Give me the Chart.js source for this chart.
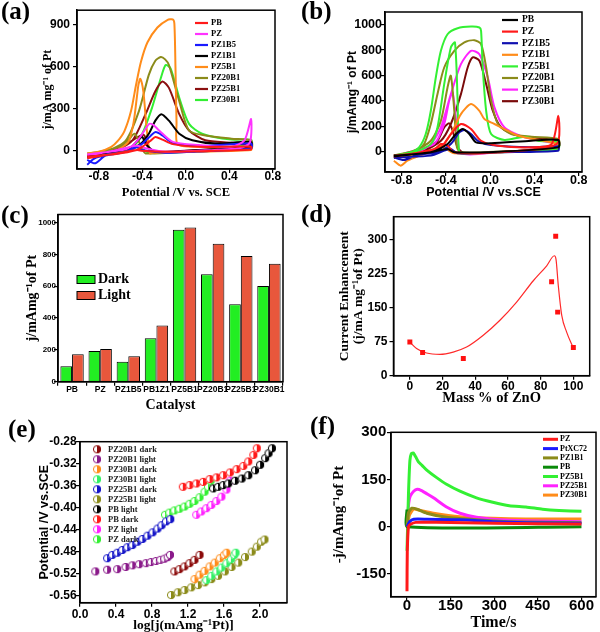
<!DOCTYPE html>
<html lang="en">
<head>
<meta charset="UTF-8">
<title>Pt catalyst panels</title>
<script src="https://cdn.jsdelivr.net/npm/chart.js"></script>
<style>
  body { margin: 0; background: #fff; }
  #fig { position: relative; width: 600px; height: 632px; overflow: hidden; }
  #fig canvas { position: absolute; }
  .tag { position: absolute; font: bold 25px 'Liberation Serif', 'Times New Roman', serif; line-height: 24px; }
</style>
</head>
<body>
<div id="fig">
  <canvas id="cA" width="300" height="205" style="left:0;top:0"></canvas>
  <canvas id="cB" width="300" height="205" style="left:300px;top:0"></canvas>
  <canvas id="cC" width="300" height="210" style="left:0;top:205px"></canvas>
  <canvas id="cD" width="300" height="210" style="left:300px;top:205px"></canvas>
  <canvas id="cE" width="300" height="217" style="left:0;top:415px"></canvas>
  <canvas id="cF" width="300" height="217" style="left:300px;top:415px"></canvas>
  <div class="tag" style="left:1px;top:-1px">(a)</div>
  <div class="tag" style="left:301px;top:-1px">(b)</div>
  <div class="tag" style="left:1px;top:203px">(c)</div>
  <div class="tag" style="left:301px;top:202px">(d)</div>
  <div class="tag" style="left:8px;top:417px">(e)</div>
  <div class="tag" style="left:310px;top:414px">(f)</div>
</div>
<script>
// ---- (a) CV in dark: [potential V, j], forward then reverse scan
const cvLabels = ['PB', 'PZ', 'PZ1B5', 'PZ1B1', 'PZ5B1', 'PZ20B1', 'PZ25B1', 'PZ30B1'];
const aPB = [[-0.906,-42],[-0.64,-23],[-0.45,5],[-0.40,28],[-0.32,74],[-0.28,98],[-0.215,79],[-0.12,47],[0.12,28],[0.6,28],[0.6,9],[0.1,-3],[-0.19,-7],[-0.40,0],[-0.45,5],[-0.64,-19],[-0.906,-53]];
const aPZ = [[-0.906,-25],[-0.58,5],[-0.50,30],[-0.43,86],[-0.336,191],[-0.30,185],[-0.245,144],[-0.12,63],[0.12,40],[0.42,28],[0.54,74],[0.6,226],[0.59,60],[0.5,20],[0.1,0],[-0.19,-7],[-0.38,20],[-0.45,35],[-0.55,20],[-0.79,-19],[-0.906,-30]];
const aPZ1B5 = [[-0.906,-65],[-0.85,-88],[-0.82,-84],[-0.73,-30],[-0.55,-7],[-0.40,51],[-0.32,109],[-0.276,133],[-0.215,109],[-0.12,56],[0.12,33],[0.6,51],[0.6,16],[0.1,-5],[-0.19,-14],[-0.40,5],[-0.46,28],[-0.55,-7],[-0.79,-42],[-0.85,-60],[-0.906,-100]];
const aPZ1B1 = [[-0.906,-40],[-0.61,5],[-0.43,40],[-0.34,121],[-0.28,214],[-0.225,260],[-0.155,214],[-0.06,121],[0.06,74],[0.27,51],[0.6,63],[0.6,28],[0.12,5],[-0.28,-7],[-0.37,51],[-0.40,98],[-0.44,74],[-0.52,16],[-0.79,-23],[-0.906,-50]];
const aPZ5B1 = [[-0.906,-19],[-0.79,-5],[-0.685,28],[-0.625,70],[-0.564,140],[-0.503,284],[-0.457,470],[-0.412,633],[-0.352,772],[-0.261,877],[-0.17,930],[-0.12,935],[-0.105,905],[-0.095,600],[-0.085,200],[-0.075,45],[0.12,28],[0.42,16],[0.6,20],[0.6,5],[0.12,-7],[-0.30,-14],[-0.33,-18],[-0.36,160],[-0.39,420],[-0.418,512],[-0.435,470],[-0.45,380],[-0.48,200],[-0.53,60],[-0.65,0],[-0.906,-30]];
const aPZ20B1 = [[-0.906,-19],[-0.70,5],[-0.55,74],[-0.43,284],[-0.34,540],[-0.28,640],[-0.23,667],[-0.19,650],[-0.155,610],[-0.06,353],[0.03,144],[0.18,109],[0.42,86],[0.6,74],[0.6,16],[-0.03,-7],[-0.37,-19],[-0.41,28],[-0.47,121],[-0.53,74],[-0.61,28],[-0.79,-7],[-0.906,-23]];
const aPZ25B1 = [[-0.906,-30],[-0.64,5],[-0.49,74],[-0.37,260],[-0.28,423],[-0.215,493],[-0.155,447],[-0.06,260],[0.03,144],[0.18,74],[0.42,56],[0.6,40],[0.6,28],[0.12,5],[-0.28,-7],[-0.35,28],[-0.38,109],[-0.41,109],[-0.49,74],[-0.61,16],[-0.906,-30]];
const aPZ30B1 = [[-0.906,-25],[-0.64,-3],[-0.49,28],[-0.40,121],[-0.31,307],[-0.23,516],[-0.185,610],[-0.14,586],[-0.06,377],[0.03,191],[0.15,121],[0.42,79],[0.6,79],[0.6,51],[0.12,0],[-0.34,-14],[-0.43,28],[-0.50,10],[-0.64,-7],[-0.906,-30]];
const aColors = ['#ff1a1a', '#ff33ff', '#1a1aff', '#000000', '#ff8c1a', '#8b8b1a', '#8b1010', '#33ee33'];

// ---- (b) CV under light
const bPB = [[-0.87,-31],[-0.536,-5],[-0.385,60],[-0.309,139],[-0.248,178],[-0.188,139],[-0.127,73],[0.009,66],[0.373,86],[0.615,92],[0.615,34],[0.07,0],[-0.324,-5],[-0.385,21],[-0.536,-5],[-0.87,-37]];
const bPZ = [[-0.87,-31],[-0.597,-5],[-0.445,34],[-0.355,139],[-0.264,218],[-0.173,178],[-0.082,86],[0.07,47],[0.373,34],[0.555,60],[0.615,283],[0.6,60],[0.07,-5],[-0.324,-5],[-0.385,47],[-0.445,60],[-0.5,21],[-0.688,-13],[-0.87,-39]];
const bPZ1B5 = [[-0.87,-45],[-0.779,-66],[-0.658,-24],[-0.476,-5],[-0.355,60],[-0.279,152],[-0.233,170],[-0.173,139],[-0.112,86],[0.009,52],[0.373,34],[0.615,42],[0.615,8],[0.07,-5],[-0.294,-13],[-0.355,21],[-0.415,8],[-0.536,-31],[-0.84,-45],[-0.87,-50]];
const bPZ1B1 = [[-0.87,-71],[-0.809,-110],[-0.748,-71],[-0.597,-18],[-0.445,34],[-0.355,139],[-0.264,296],[-0.173,375],[-0.097,322],[-0.052,257],[0.039,218],[0.13,178],[0.252,126],[0.615,60],[0.615,34],[0.07,-5],[-0.324,-13],[-0.415,34],[-0.445,47],[-0.536,8],[-0.748,-31],[-0.87,-45]];
const bPZ5B1 = [[-0.87,-31],[-0.718,-5],[-0.642,34],[-0.582,139],[-0.536,322],[-0.491,584],[-0.445,794],[-0.385,925],[-0.294,972],[-0.173,985],[-0.097,978],[-0.082,951],[-0.067,663],[-0.036,322],[0.009,139],[0.13,92],[0.312,118],[0.433,86],[0.615,73],[0.615,21],[0.07,-5],[-0.233,-13],[-0.28,-5],[-0.294,401],[-0.318,860],[-0.355,820],[-0.415,532],[-0.476,191],[-0.536,60],[-0.688,-5],[-0.87,-45]];
const bPZ20B1 = [[-0.87,-31],[-0.688,-5],[-0.597,60],[-0.536,218],[-0.476,453],[-0.415,663],[-0.324,794],[-0.233,860],[-0.142,878],[-0.082,847],[-0.036,663],[0.009,401],[0.07,218],[0.19,139],[0.373,118],[0.615,100],[0.615,34],[0.07,0],[-0.264,-5],[-0.3,34],[-0.324,322],[-0.355,598],[-0.385,506],[-0.445,244],[-0.536,86],[-0.688,8],[-0.87,-31]];
const bPZ25B1 = [[-0.87,-31],[-0.658,-5],[-0.536,60],[-0.445,191],[-0.355,453],[-0.264,689],[-0.173,794],[-0.097,768],[-0.021,584],[0.039,349],[0.13,191],[0.312,113],[0.615,60],[0.615,34],[0.07,-5],[-0.264,-13],[-0.294,139],[-0.339,466],[-0.37,401],[-0.415,218],[-0.506,60],[-0.688,8],[-0.87,-39]];
const bPZ30B1 = [[-0.87,-45],[-0.597,8],[-0.445,86],[-0.355,218],[-0.264,453],[-0.203,663],[-0.158,742],[-0.097,716],[-0.036,532],[0.024,322],[0.1,191],[0.252,126],[0.615,86],[0.615,34],[0.07,-5],[-0.233,-13],[-0.294,34],[-0.339,165],[-0.37,223],[-0.415,191],[-0.476,86],[-0.597,21],[-0.87,-45]];
const bColors = ['#000000', '#ff1a1a', '#1010b0', '#ff8c1a', '#33f033', '#8b8b1a', '#ff22ff', '#7a0a0a'];

// ---- (c) peak current, dark vs light
const catalysts = ['PB', 'PZ', 'PZ1B5', 'PB1Z1', 'PZ5B1', 'PZ20B1', 'PZ25B1', 'PZ30B1'];
const darkPeak = [97, 193, 126, 273, 954, 674, 487, 601];
const lightPeak = [172, 206, 160, 353, 968, 866, 790, 740];

// ---- (d) current enhancement vs ZnO mass %
const znoMass = [0, 7.8, 32.7, 86.7, 89.2, 90.4, 100];
const enhancement = [74, 51, 38, 207, 307, 140, 62];
const fitMass = [0, 4.1, 10.2, 18.4, 26.5, 34.7, 44.9, 55.1, 65.3, 75.5, 83.7, 88.4, 89.4, 90.8, 92.9, 95.9, 100];
const fitEnh = [74, 60, 50, 47, 52, 63, 89, 122, 162, 209, 242, 264, 256, 198, 133, 96, 61];

// ---- (e) Tafel plots: [log j, potential]
const ePZ20B1dark = [[1.048,-0.516],[1.104,-0.512],[1.16,-0.507],[1.216,-0.501],[1.272,-0.495],[1.328,-0.486]];
const ePZ20B1light = [[0.17,-0.516],[0.301,-0.513],[0.413,-0.512],[0.506,-0.508],[0.581,-0.505],[0.656,-0.503],[0.731,-0.501],[0.787,-0.499],[0.843,-0.497],[0.891,-0.495],[0.936,-0.493],[0.974,-0.49],[1.0,-0.486]];
const ePZ30B1dark = [[1.272,-0.53],[1.328,-0.522],[1.384,-0.515],[1.44,-0.507],[1.497,-0.5],[1.553,-0.492],[1.601,-0.486],[1.627,-0.482]];
const ePZ30B1light = [[1.403,-0.532],[1.459,-0.524],[1.515,-0.516],[1.571,-0.509],[1.627,-0.501],[1.676,-0.494],[1.713,-0.486],[1.728,-0.482]];
const ePZ25B1dark = [[0.301,-0.492],[0.357,-0.486],[0.413,-0.482],[0.469,-0.477],[0.525,-0.472],[0.581,-0.468],[0.637,-0.462],[0.693,-0.457],[0.749,-0.451],[0.806,-0.445],[0.861,-0.438],[0.906,-0.432],[0.955,-0.425],[1.003,-0.421]];
const ePZ25B1light = [[1.011,-0.559],[1.086,-0.554],[1.16,-0.55],[1.235,-0.545],[1.31,-0.541],[1.384,-0.536],[1.459,-0.53],[1.534,-0.524],[1.609,-0.516],[1.684,-0.508],[1.758,-0.5],[1.833,-0.49],[1.908,-0.48],[1.964,-0.471],[2.012,-0.462],[2.05,-0.458]];
const ePBlight = [[1.478,-0.365],[1.534,-0.362],[1.59,-0.359],[1.646,-0.356],[1.721,-0.351],[1.796,-0.347],[1.87,-0.341],[1.945,-0.332],[2.001,-0.322],[2.057,-0.31],[2.095,-0.301],[2.132,-0.292]];
const ePBdark = [[1.142,-0.362],[1.216,-0.359],[1.291,-0.356],[1.366,-0.353],[1.44,-0.348],[1.515,-0.345],[1.59,-0.341],[1.665,-0.336],[1.739,-0.33],[1.814,-0.324],[1.87,-0.316],[1.926,-0.304],[1.964,-0.292]];
const ePZlight = [[1.291,-0.413],[1.347,-0.407],[1.403,-0.401],[1.459,-0.395],[1.515,-0.388],[1.571,-0.38],[1.627,-0.367],[1.665,-0.351]];
const ePZdark = [[0.944,-0.413],[0.992,-0.409],[1.048,-0.405],[1.104,-0.402],[1.16,-0.398],[1.216,-0.393],[1.272,-0.388],[1.328,-0.381],[1.384,-0.371],[1.422,-0.362],[1.452,-0.351]];
const tafelLabels = ['PZ20B1 dark', 'PZ20B1 light', 'PZ30B1 dark', 'PZ30B1 light', 'PZ25B1 dark', 'PZ25B1 light', 'PB light', 'PB dark', 'PZ light', 'PZ dark'];
const tafelColors = ['#8b0a0a', '#8a1a8a', '#ff8c1a', '#33f066', '#1414c8', '#8b8b1a', '#000000', '#ff1a1a', '#ff22ff', '#33f033'];

// ---- (f) chronoamperometry: [time s, -j]
const fPZ = [[0,-205],[1,-80],[5,0],[12,8],[30,14],[100,14],[300,11],[600,9]];
const fPtXC72 = [[0,0],[9,16],[23,24],[68,24],[182,22],[295,16],[409,13],[600,11]];
const fPZ1B1 = [[0,0],[5,45],[17,59],[34,56],[68,43],[136,30],[239,22],[352,16],[600,13]];
const fPB = [[0,55],[2,0],[600,0]];
const fPZ5B1 = [[0,-76],[5,100],[10,210],[15,232],[22,234],[30,222],[40,205],[51,196],[68,180],[102,156],[136,135],[182,113],[239,92],[295,78],[352,67],[409,63],[466,56],[523,52],[600,49]];
const fPZ25B1 = [[0,0],[6,75],[11,97],[23,113],[35,119],[50,115],[70,104],[91,92],[136,63],[182,43],[239,30],[295,24],[409,19],[600,16]];
const fPZ30B1 = [[0,0],[9,38],[23,56],[45,52],[91,43],[182,32],[295,27],[409,25],[600,25]];
const caLabels = ['PZ', 'PtXC72', 'PZ1B1', 'PB', 'PZ5B1', 'PZ25B1', 'PZ30B1'];
const caColors = ['#ff1a1a', '#1a1aff', '#8b8b1a', '#0a8a0a', '#33f033', '#ff22ff', '#ff8c1a'];

// tick values
const cvTicks = [-0.8, -0.4, 0, 0.4, 0.8];
const aYTicks = [0, 300, 600, 900];
const bYTicks = [0, 200, 400, 600, 800, 1000];
const cYTicks = [0, 200, 400, 600, 800, 1000];
const dXTicks = [0, 20, 40, 60, 80, 100];
const dYTicks = [0, 75, 150, 225, 300];
const eXTicks = [0, 0.4, 0.8, 1.2, 1.6, 2.0];
const eYTicks = [-0.56, -0.52, -0.48, -0.44, -0.40, -0.36, -0.32, -0.28];
const fXTicks = [0, 150, 300, 450, 600];
const fYTicks = [-150, 0, 150, 300];

const serif = "'Liberation Serif', 'Times New Roman', serif";
const sans = "'Liberation Sans', Arial, sans-serif";
Chart.defaults.font.family = sans;
Chart.defaults.font.weight = 'bold';
Chart.defaults.color = '#000';
Chart.defaults.animation = false;
Chart.defaults.plugins.legend.display = false;
Chart.defaults.plugins.tooltip.enabled = false;

// box around the plot area
const frame = {
  id: 'frame',
  afterDraw(chart) {
    const { ctx, chartArea: a } = chart;
    ctx.save();
    ctx.strokeStyle = '#000';
    ctx.lineWidth = 1.5;
    ctx.strokeRect(a.left, a.top, a.right - a.left, a.bottom - a.top);
    ctx.restore();
  }
};

// legend drawn inside the plot, at a fixed spot
const innerLegend = {
  id: 'innerLegend',
  afterDraw(chart, args, o) {
    if (!o.type) return;
    const ctx = chart.ctx;
    ctx.save();
    ctx.font = o.font;
    ctx.textBaseline = 'middle';
    chart.data.datasets.forEach((d, i) => {
      if (!d.label) return;
      const y = o.y + i * o.rowH;
      if (o.type === 'line') {
        ctx.strokeStyle = d.borderColor;
        ctx.lineWidth = o.lineWidth;
        ctx.beginPath(); ctx.moveTo(o.x, y); ctx.lineTo(o.x + o.len, y); ctx.stroke();
      } else if (o.type === 'box') {
        ctx.fillStyle = d.backgroundColor;
        ctx.fillRect(o.x, y - o.boxH / 2, o.len, o.boxH);
        ctx.strokeStyle = '#000'; ctx.lineWidth = 1;
        ctx.strokeRect(o.x, y - o.boxH / 2, o.len, o.boxH);
      } else {
        const img = d.pointStyle;
        ctx.drawImage(img, o.x + o.len / 2 - img.width / 2, y - img.height / 2);
      }
      ctx.fillStyle = o.textColor || '#000';
      ctx.fillText(d.label, o.x + o.len + o.gap, y);
    });
    ctx.restore();
  }
};
Chart.register(frame, innerLegend);

function axis(pos, lim, ticks, fmt, size, tick, title) {
  const a = {
    position: pos,
    afterFit: s => { if (pos === 'left') s.width = size; else s.height = size; },
    ticks: { font: { size: tick.size, family: tick.family || sans }, color: '#000', padding: tick.pad, autoSkip: false, maxRotation: 0, minRotation: 0 },
    grid: { drawOnChartArea: false, tickLength: 4, color: '#000', lineWidth: 1.2 },
    border: { color: '#000', width: 1.5 },
    title
  };
  if (lim) {
    a.type = 'linear';
    a.min = lim[0];
    a.max = lim[1];
    a.afterBuildTicks = s => { s.ticks = ticks.map(v => ({ value: v })); };
    a.ticks.callback = fmt;
  }
  return a;
}
function ttl(text, size, family, pad, lh) {
  return { display: true, text, color: '#000', padding: pad, font: { family, size, weight: 'bold', lineHeight: lh || 1.2 } };
}
const xy = arr => arr.map(p => ({ x: p[0], y: p[1] }));
const curve = (label, arr, color, w, extra) => Object.assign({
  label, data: xy(arr), borderColor: color, backgroundColor: color,
  borderWidth: w, showLine: true, pointRadius: 0, tension: 0.25
}, extra || {});

function halfDot(color) {
  const c = document.createElement('canvas');
  c.width = 10; c.height = 10;
  const g = c.getContext('2d');
  g.fillStyle = '#fff';
  g.beginPath(); g.arc(5, 5, 4, 0, 2 * Math.PI); g.fill();
  g.fillStyle = color;
  g.beginPath(); g.arc(5, 5, 4, -Math.PI / 2, Math.PI / 2); g.closePath(); g.fill();
  g.strokeStyle = color; g.lineWidth = 1;
  g.beginPath(); g.arc(5, 5, 3.6, 0, 2 * Math.PI); g.stroke();
  return c;
}

const fmt1 = v => v.toFixed(1);
const fmt2 = v => v.toFixed(2);
const fmt0 = v => String(v);

// (a)
const cvA = [aPB, aPZ, aPZ1B5, aPZ1B1, aPZ5B1, aPZ20B1, aPZ25B1, aPZ30B1];
new Chart(document.getElementById('cA'), {
  type: 'scatter',
  data: { datasets: cvLabels.map((l, i) => curve(l, cvA[i], aColors[i], 2)) },
  options: {
    responsive: false, devicePixelRatio: 1,
    layout: { padding: { left: 0, top: 7, right: 25, bottom: 0 } },
    scales: {
      x: axis('bottom', [-1.0, 0.82], cvTicks, fmt1, 36, { size: 12, pad: -4 }, ttl('Potential /V vs. SCE', 12.5, serif, { top: 0, bottom: 4.5 })),
      y: axis('left', [-130, 1000], aYTicks, fmt0, 77, { size: 12, pad: 3 }, ttl('j/mA mg⁻¹ of Pt', 12, serif, { top: 41, bottom: 0 }))
    },
    plugins: { innerLegend: { type: 'line', x: 195, y: 23, rowH: 11, len: 13, gap: 3, lineWidth: 2.2, font: `bold 8.5px ${serif}` } }
  }
});

// (b)
const cvB = [bPB, bPZ, bPZ1B5, bPZ1B1, bPZ5B1, bPZ20B1, bPZ25B1, bPZ30B1];
new Chart(document.getElementById('cB'), {
  type: 'scatter',
  data: { datasets: cvLabels.map((l, i) => curve(l, cvB[i], bColors[i], 2)) },
  options: {
    responsive: false, devicePixelRatio: 1,
    layout: { padding: { left: 0, top: 12, right: 18, bottom: 0 } },
    scales: {
      x: axis('bottom', [-0.95, 0.83], cvTicks, fmt1, 33, { size: 12.5, pad: -2.5 }, ttl('Potential /V vs.SCE', 12.5, sans, { top: 0, bottom: 4.8 })),
      y: axis('left', [-160, 1100], bYTicks, fmt0, 85, { size: 12.5, pad: -1 }, ttl('j/mAmg⁻¹ of Pt', 12, sans, { top: 45, bottom: 0 }))
    },
    plugins: { innerLegend: { type: 'line', x: 202, y: 20, rowH: 11.6, len: 16, gap: 4, lineWidth: 2.2, font: `bold 9.5px ${serif}` } }
  }
});

// (c)
new Chart(document.getElementById('cC'), {
  type: 'bar',
  data: {
    labels: catalysts,
    datasets: [
      { label: 'Dark', data: darkPeak, backgroundColor: '#22ee22', borderColor: '#000', borderWidth: 1, categoryPercentage: 0.83, barPercentage: 1.0 },
      { label: 'Light', data: lightPeak, backgroundColor: '#e8573c', borderColor: '#000', borderWidth: 1, categoryPercentage: 0.83, barPercentage: 1.0 }
    ]
  },
  options: {
    responsive: false, devicePixelRatio: 1,
    layout: { padding: { left: 0, top: 9.5, right: 17, bottom: 0 } },
    scales: {
      x: axis('bottom', null, null, null, 33.3, { size: 8.5, pad: -1 }, ttl('Catalyst', 14, serif, { top: 0, bottom: 1.6 })),
      y: axis('left', [0, 1050], cYTicks, fmt0, 58, { size: 8, pad: -2 }, ttl('j/mAmg⁻¹of Pt', 14, serif, { top: 24, bottom: 0 }))
    },
    plugins: { innerLegend: { type: 'box', x: 77, y: 74.5, rowH: 16, len: 18, boxH: 8, gap: 3, font: `bold 14px ${serif}` } }
  }
});

// (d)
new Chart(document.getElementById('cD'), {
  type: 'scatter',
  data: {
    datasets: [
      { data: znoMass.map((m, i) => ({ x: m, y: enhancement[i] })), pointStyle: 'rect', pointRadius: 3.5, backgroundColor: '#ff1010', borderWidth: 0 },
      { data: fitMass.map((m, i) => ({ x: m, y: fitEnh[i] })), showLine: true, pointRadius: 0, borderColor: '#ff2a2a', borderWidth: 1.2, cubicInterpolationMode: 'monotone' }
    ]
  },
  options: {
    responsive: false, devicePixelRatio: 1,
    layout: { padding: { left: 0, top: 11.7, right: 10.3, bottom: 0 } },
    scales: {
      x: axis('bottom', [-10, 110], dXTicks, fmt0, 39.3, { size: 12, pad: -0.5 }, ttl('Mass % of ZnO', 14.5, serif, { top: 0, bottom: 8 })),
      y: axis('left', [0, 350], dYTicks, fmt0, 93.5, { size: 12, pad: 2 }, ttl(['Current Enhancement', '(j/mA mg⁻¹of Pt)'], 13.5, serif, { top: 37, bottom: 0 }, 1.07))
    }
  }
});

// (e)
const tafel = [ePZ20B1dark, ePZ20B1light, ePZ30B1dark, ePZ30B1light, ePZ25B1dark, ePZ25B1light, ePBlight, ePBdark, ePZlight, ePZdark];
new Chart(document.getElementById('cE'), {
  type: 'scatter',
  data: {
    datasets: tafelLabels.map((l, i) => ({ label: l, data: xy(tafel[i]), pointStyle: halfDot(tafelColors[i]), pointRadius: 4, borderColor: tafelColors[i] }))
  },
  options: {
    responsive: false, devicePixelRatio: 1,
    layout: { padding: { left: 0, top: 26.7, right: 13, bottom: 0 } },
    scales: {
      x: axis('bottom', [0, 2.3], eXTicks, fmt1, 29.3, { size: 12, pad: 1 }, ttl('log[j(mAmg⁻¹Pt)]', 13.5, serif, { top: 0, bottom: 0 }, 1.0)),
      y: axis('left', [-0.573, -0.28], eYTicks, fmt2, 80, { size: 12, pad: -0.7 }, ttl('Potential /V vs.SCE', 12.5, sans, { top: 37, bottom: 0 }))
    },
    plugins: { innerLegend: { type: 'marker', x: 92, y: 34.3, rowH: 10, len: 10, gap: 6, font: `bold 8.5px ${serif}`, textColor: '#222' } }
  }
});

// (f)
const ca = [fPZ, fPtXC72, fPZ1B1, fPB, fPZ5B1, fPZ25B1, fPZ30B1];
new Chart(document.getElementById('cF'), {
  type: 'scatter',
  data: { datasets: caLabels.map((l, i) => curve(l, ca[i], caColors[i], 3, { tension: 0.2 })) },
  options: {
    responsive: false, devicePixelRatio: 1,
    layout: { padding: { left: 0, top: 17.3, right: 4, bottom: 0 } },
    scales: {
      x: axis('bottom', [-55, 650], fXTicks, fmt0, 35.3, { size: 15, pad: -4 }, ttl('Time/s', 16, serif, { top: 0, bottom: 1 }, 1.0)),
      y: axis('left', [-222, 300], fYTicks, fmt0, 91, { size: 15, pad: 0.7 }, ttl('-j/mAmg⁻¹of Pt', 15, serif, { top: 30, bottom: 0 }))
    },
    plugins: { innerLegend: { type: 'line', x: 243, y: 24.3, rowH: 9.3, len: 15, gap: 2, lineWidth: 3, font: `bold 8px ${serif}` } }
  }
});
</script>
</body>
</html>
